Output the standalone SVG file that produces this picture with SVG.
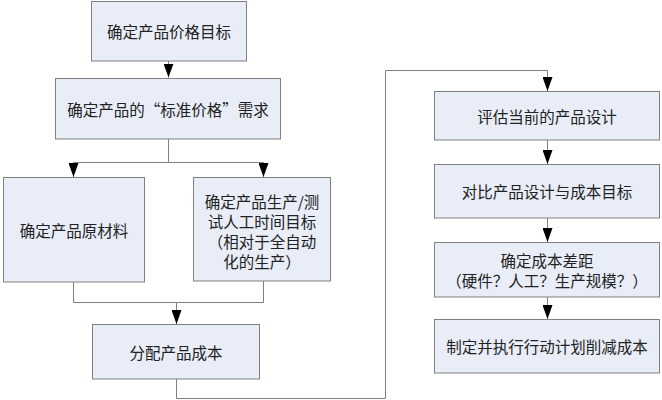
<svg xmlns="http://www.w3.org/2000/svg" width="662" height="400" viewBox="0 0 662 400">
<style>
.box{fill:#e8edf7;stroke:#808080;stroke-width:1}
.t{font-family:"Noto Sans CJK SC","Liberation Serif",serif;font-size:15.5px;fill:#222;text-anchor:middle;dominant-baseline:central}
.c{fill:none;stroke:#808080;stroke-width:1}
.a{marker-end:url(#ah)}
</style>
<defs>
<marker id="ah" markerUnits="userSpaceOnUse" markerWidth="14" markerHeight="10" refX="14" refY="5" orient="auto" viewBox="0 0 14 10">
<path d="M0,0 L14,5 L0,10 z" fill="#000"/>
</marker>
</defs>
<rect width="662" height="400" fill="#fff"/>
<g id="connectors">
<path class="c a" d="M168.5,61 V77.5"/>
<path class="c a" d="M168.5,139 V162.5 H73.5 V177"/>
<path class="c a" d="M168.5,162.5 H263.5 V177"/>
<path class="c a" d="M73.5,282 V302.5 H176.5 V324"/>
<path class="c" d="M263.5,281 V302.5 H176.5"/>
<path class="c a" d="M176.5,379 V398.5 H385.5 V70.5 H547.5 V91"/>
<path class="c a" d="M547.5,140 V164"/>
<path class="c a" d="M547.5,218 V242"/>
<path class="c a" d="M547.5,297 V319"/>
</g>
<g id="n1"><rect class="box" x="91.5" y="1.5" width="155" height="59.5"/><text class="t" x="169" y="31">确定产品价格目标</text></g>
<g id="n2"><rect class="box" x="55.5" y="78.5" width="225" height="60.5"/><text class="t" x="168" y="108.5">确定产品的“标准价格”需求</text></g>
<g id="n3"><rect class="box" x="3.5" y="177.5" width="141" height="104.5"/><text class="t" x="74" y="230">确定产品原材料</text></g>
<g id="n4"><rect class="box" x="193.5" y="177.5" width="137" height="103.5"/>
<text class="t"><tspan x="262" y="201">确定产品生产/测</tspan><tspan x="262" y="221">试人工时间目标</tspan><tspan x="262" y="241">（相对于全自动</tspan><tspan x="262" y="261">化的生产）</tspan></text></g>
<g id="n5"><rect class="box" x="92.5" y="324.5" width="167" height="54.5"/><text class="t" x="176" y="352">分配产品成本</text></g>
<g id="n6"><rect class="box" x="434.5" y="91.5" width="225" height="48.5"/><text class="t" x="547" y="116">评估当前的产品设计</text></g>
<g id="n7"><rect class="box" x="434.5" y="164.5" width="225" height="53.5"/><text class="t" x="547" y="191">对比产品设计与成本目标</text></g>
<g id="n8"><rect class="box" x="434.5" y="242.5" width="225" height="54.5"/>
<text class="t"><tspan x="547" y="260">确定成本差距</tspan><tspan x="547" y="280">（硬件？人工？生产规模？）</tspan></text></g>
<g id="n9"><rect class="box" x="434.5" y="319.5" width="225" height="53.5"/><text class="t" x="547" y="346">制定并执行行动计划削减成本</text></g>
</svg>
